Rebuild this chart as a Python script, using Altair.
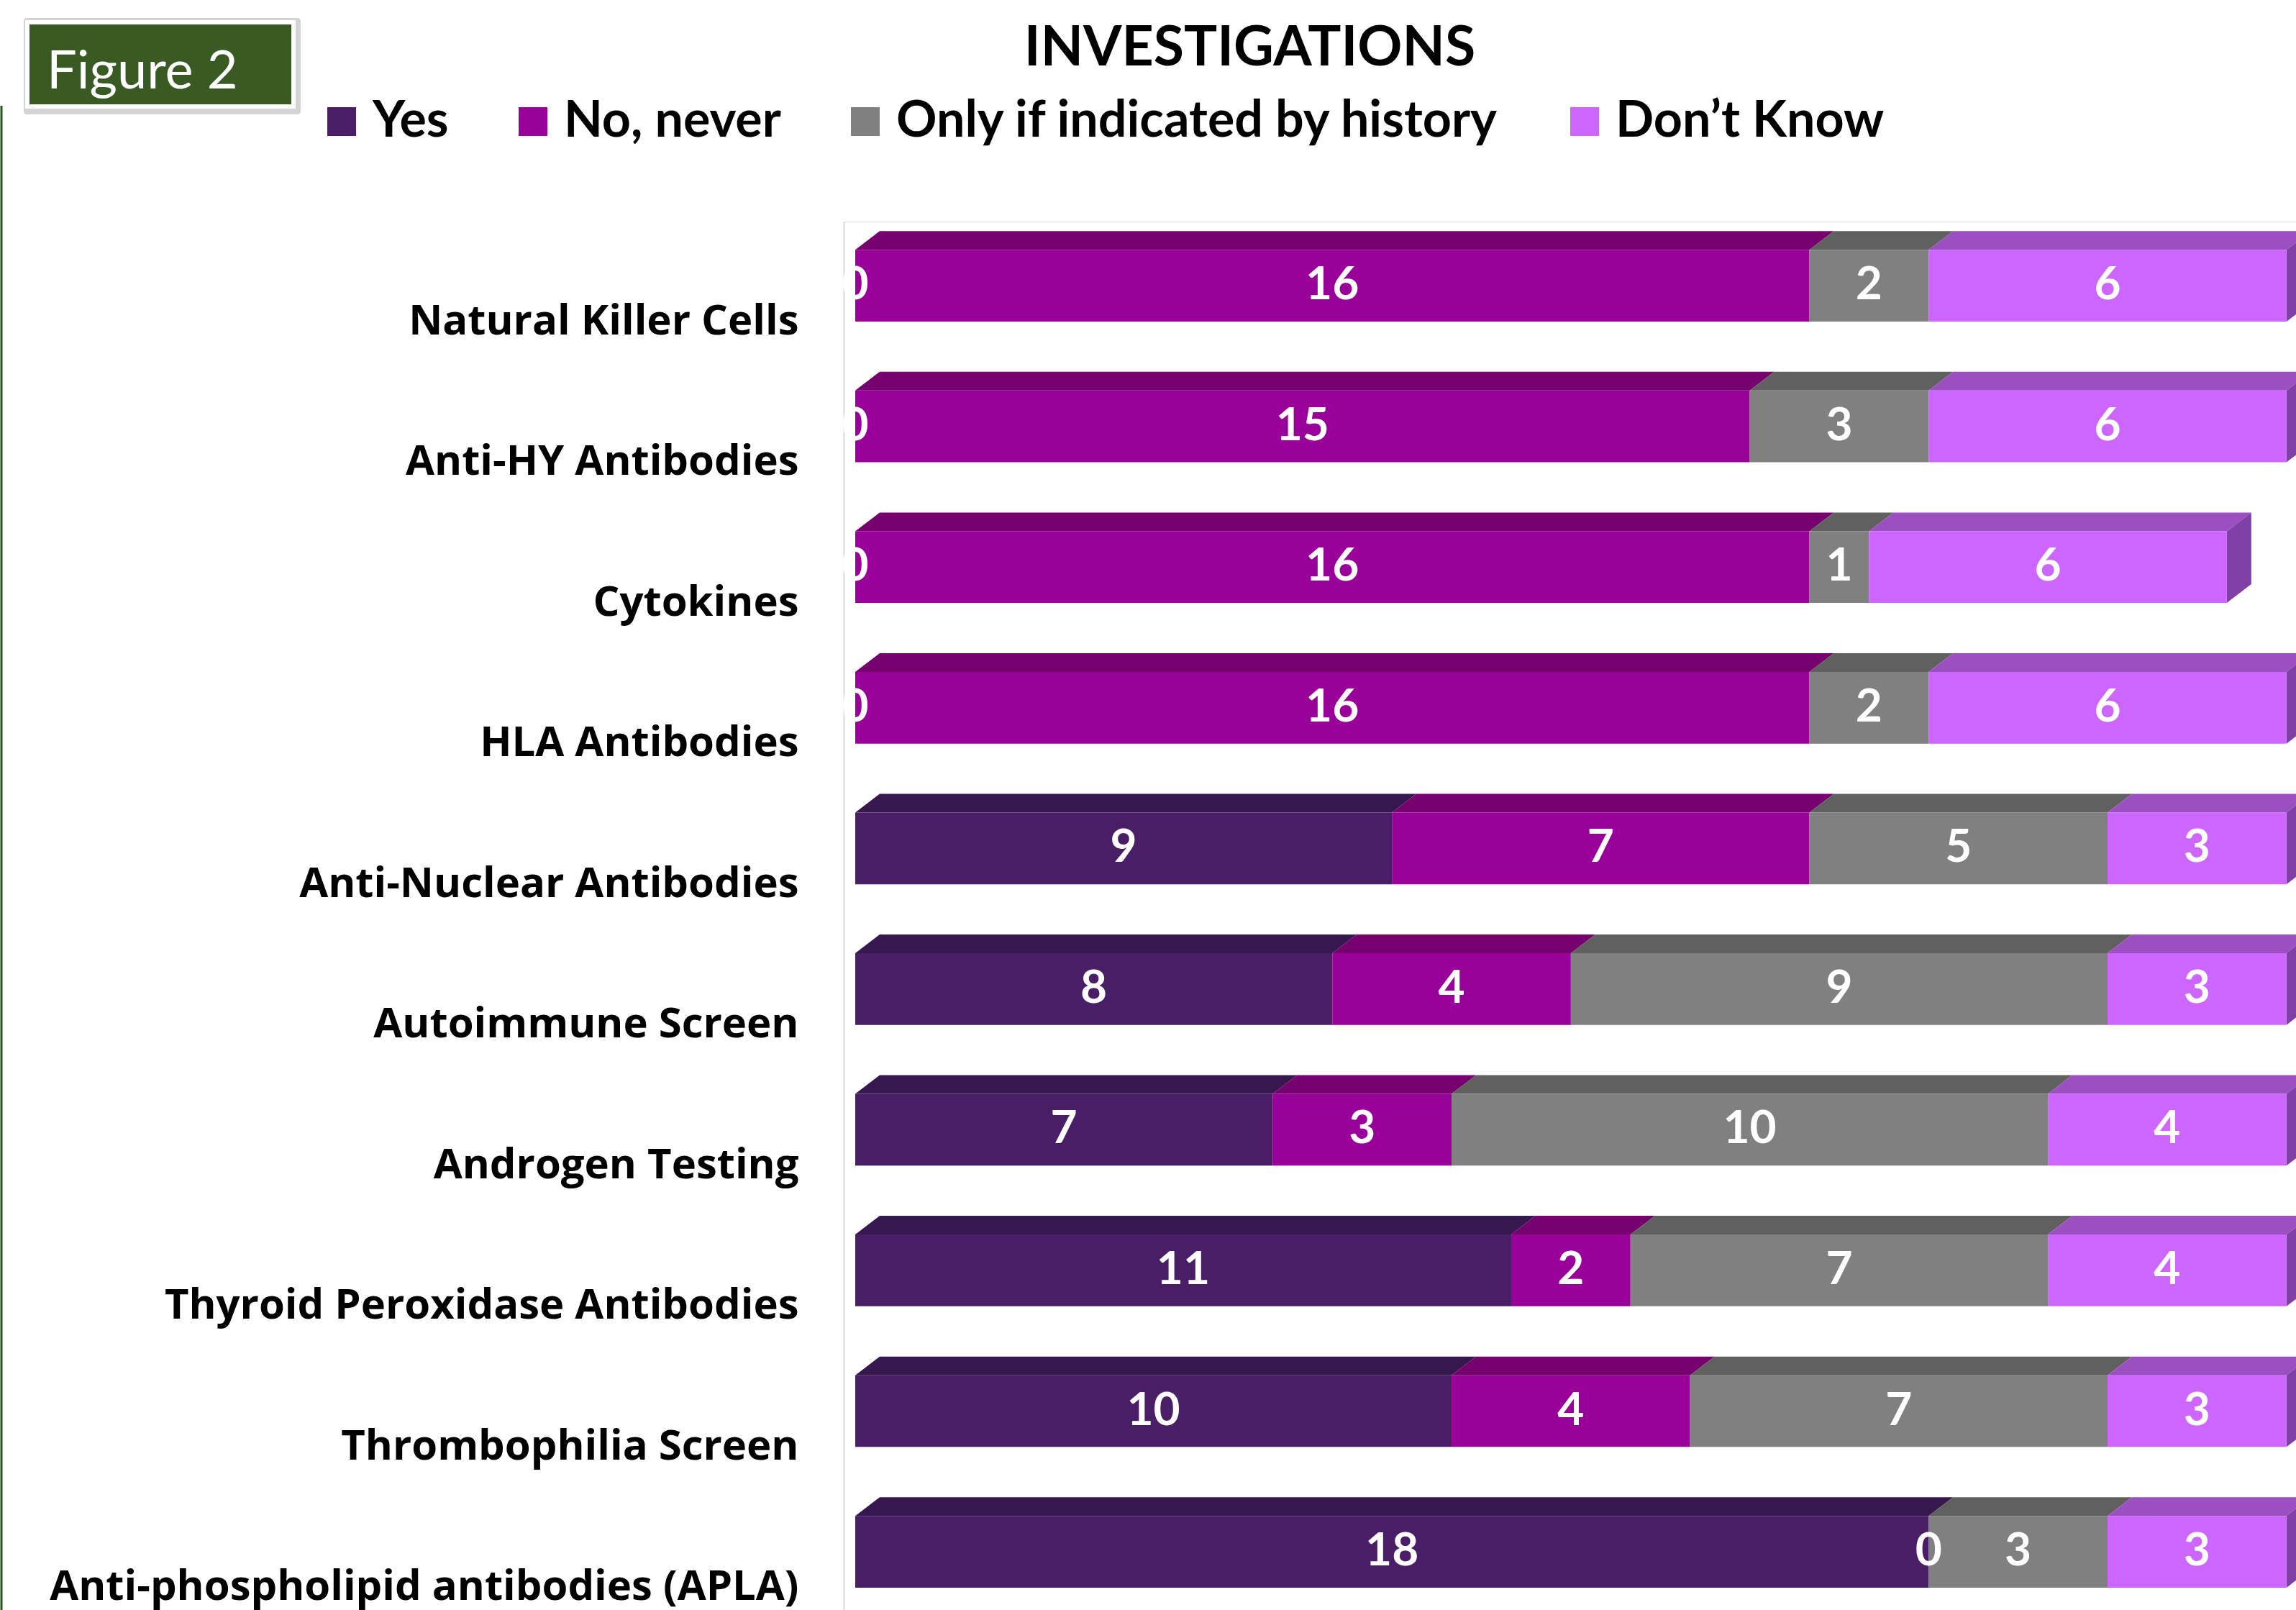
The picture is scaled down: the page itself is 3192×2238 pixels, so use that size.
import json
import altair as alt
import pandas as pd

# ---------------- data ----------------
categories = [
    "Natural Killer Cells",
    "Anti-HY Antibodies",
    "Cytokines",
    "HLA Antibodies",
    "Anti-Nuclear Antibodies",
    "Autoimmune Screen",
    "Androgen Testing",
    "Thyroid Peroxidase Antibodies",
    "Thrombophilia Screen",
    "Anti-phospholipid antibodies (APLA)",
]
series = ["Yes", "No, never", "Only if indicated by history", "Don’t Know"]
yes_vals = [0, 0, 0, 0, 9, 8, 7, 11, 10, 18]
no_vals = [16, 15, 16, 16, 7, 4, 3, 2, 4, 0]
only_vals = [2, 3, 1, 2, 5, 9, 10, 7, 7, 3]
dk_vals = [6, 6, 6, 6, 3, 3, 4, 4, 3, 3]

# ---------------- style ----------------
front_colors = ["#4A1E66", "#990099", "#808080", "#CC66FF"]
top_colors = ["#36184F", "#77006F", "#606060", "#9C4FC0"]
side_color = "#8040A6"
FRONT_H = 0.51    # front face height (row units)
DEPTH_Y = 0.133   # 3-D depth, vertical (row units)
DEPTH_X = 0.41    # 3-D depth, horizontal (value units)
FONT = "Lato"

# ---------------- derived tables ----------------
vals = [yes_vals, no_vals, only_vals, dk_vals]
front_rows, top_rows, side_rows = [], [], []
for r, cat in enumerate(categories):
    start = 0
    for s, name in enumerate(series):
        v = vals[s][r]
        end = start + v
        seg = f"{r}-{s}"
        front_rows.append(dict(cat=cat, series=name, value=v, x0=start, x1=end,
                               xm=(start + end) / 2, y0=r - FRONT_H, y1=r,
                               ym=r - FRONT_H / 2))
        top_rows.append(dict(seg=seg, tc=top_colors[s], yy=r - FRONT_H, xa=start, xb=end))
        top_rows.append(dict(seg=seg, tc=top_colors[s], yy=r - FRONT_H - DEPTH_Y,
                             xa=start + DEPTH_X, xb=end + DEPTH_X))
        start = end
    side_rows.append(dict(row=r, xx=start, ya=r, yb=r - FRONT_H))
    side_rows.append(dict(row=r, xx=start + DEPTH_X, ya=r - DEPTH_Y, yb=r - FRONT_H - DEPTH_Y))

front_df = pd.DataFrame(front_rows)
top_df = pd.DataFrame(top_rows)
side_df = pd.DataFrame(side_rows)

xscale = alt.Scale(domain=[-0.193, 24.16], nice=False, zero=False)
yscale = alt.Scale(domain=[-0.711, 9.159], reverse=True, nice=False, zero=False)

label_expr = json.dumps(categories) + "[datum.value]"
yaxis = alt.Axis(values=list(range(len(categories))), labelExpr=label_expr,
                 ticks=False, grid=False, title=None, domainColor="#D9D9D9",
                 domainWidth=2, labelPadding=63, labelFontSize=58,
                 labelFont="Open Sans", labelFontWeight="bold", labelColor="black",
                 labelLimit=1200, labelBaseline="middle", labelOverlap=False,
                 labelFlush=False)

top_faces = alt.Chart(top_df).mark_area(orient="horizontal", clip=True).encode(
    y=alt.Y("yy:Q", scale=yscale, axis=yaxis),
    x=alt.X("xa:Q", scale=xscale, axis=None),
    x2="xb:Q",
    detail="seg:N",
    color=alt.Color("tc:N", scale=None),
)

side_faces = alt.Chart(side_df).mark_area(orient="vertical", clip=True, color=side_color).encode(
    x=alt.X("xx:Q", scale=xscale, axis=None),
    y=alt.Y("ya:Q", scale=yscale, axis=yaxis),
    y2="yb:Q",
    detail="row:N",
)

front = alt.Chart(front_df).mark_rect(clip=True).encode(
    x=alt.X("x0:Q", scale=xscale, axis=None),
    x2="x1:Q",
    y=alt.Y("y0:Q", scale=yscale, axis=yaxis),
    y2="y1:Q",
    color=alt.Color("series:N", scale=alt.Scale(domain=series, range=front_colors),
                    sort=series,
                    legend=alt.Legend(orient="none", legendX=-733, legendY=-174,
                                      direction="horizontal", columns=4, title=None,
                                      symbolType="square", symbolSize=1600,
                                      symbolStrokeWidth=0, labelFontSize=70,
                                      labelFont=FONT, labelFontWeight="bold",
                                      labelColor="black", labelOffset=8,
                                      columnPadding=82, labelLimit=1200)),
)

labels = alt.Chart(front_df).mark_text(
    color="white", font=FONT, fontWeight="bold", fontSize=64, baseline="middle", align="center"
).encode(
    x=alt.X("xm:Q", scale=xscale, axis=None),
    y=alt.Y("ym:Q", scale=yscale, axis=yaxis),
    text="value:Q",
)

one = alt.Data(values=[{"a": 1}])
fig_shadow = alt.Chart(one).mark_rect(color="#D4D4D4", cornerRadius=4).encode(
    x=alt.value(-1140), x2=alt.value(-755), y=alt.value(-283), y2=alt.value(-149))
fig_box = alt.Chart(one).mark_rect(color="#3A5A24", stroke="white", strokeWidth=6).encode(
    x=alt.value(-1135), x2=alt.value(-765), y=alt.value(-277), y2=alt.value(-160))
fig_text = alt.Chart(one).mark_text(
    text="Figure 2", color="white", font=FONT, fontSize=74, align="left", baseline="alphabetic"
).encode(x=alt.value(-1108), y=alt.value(-185))
left_line = alt.Chart(one).mark_rule(color="#24571E", strokeWidth=3).encode(
    x=alt.value(-1171), y=alt.value(-161), y2=alt.value(1930))

chart = alt.layer(
    left_line, fig_shadow, fig_box, fig_text, top_faces, side_faces, front, labels
).properties(
    width=2019,
    height=1930,
    title=alt.TitleParams("INVESTIGATIONS", font=FONT, fontSize=77, fontWeight="bold",
                          color="black", anchor="middle", frame="group", dx=-445,
                          offset=0, dy=82),
    padding={"left": 1173, "top": 308, "right": 0, "bottom": 0},
    autosize=alt.AutoSizeParams(type="none"),
).configure_view(stroke=None).configure(background="white")

chart.save("out.html", embed_options={"renderer": "svg", "actions": False})
